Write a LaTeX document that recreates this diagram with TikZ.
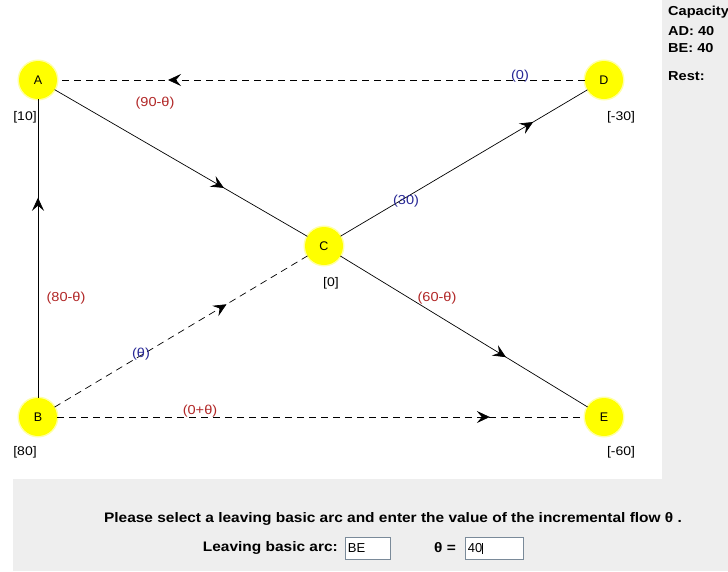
\documentclass[tikz,border=0pt]{standalone}
\usepackage{fontspec}
\setmainfont{Liberation Sans}
\newfontfamily\widefont[FakeStretch=1.12]{Liberation Sans}
\usetikzlibrary{arrows.meta,decorations.markings}
\definecolor{panelgray}{RGB}{238,238,238}
\definecolor{flowred}{RGB}{178,40,40}
\definecolor{flowblue}{RGB}{40,40,150}
\definecolor{boxborder}{RGB}{122,138,153}
\definecolor{nodeyellow}{RGB}{255,255,0}
\tikzset{
  x=1pt,y=-1pt,
  vtx/.style={circle,fill=nodeyellow,minimum size=38pt,inner sep=0pt,font=\fontsize{12.5}{14}\selectfont,
    preaction={draw=nodeyellow!35,line width=3pt}},
  pot/.style={font=\widefont\fontsize{12.5}{14}\selectfont,inner sep=0pt},
  redlbl/.style={font=\widefont\fontsize{13}{14}\selectfont,text=flowred,inner sep=0pt},
  bluelbl/.style={font=\widefont\fontsize{13}{14}\selectfont,text=flowblue,inner sep=0pt},
  arc/.style={line width=0.7pt,black},
  dasharc/.style={line width=0.7pt,black,dash pattern=on 7pt off 5pt},
  midarrow/.style={postaction={decorate},decoration={markings,
     mark=at position #1 with {\arrow{Stealth[length=13pt,width=12pt,inset=5pt]}}}},
  paneltext/.style={font=\widefont\bfseries\fontsize{13}{14}\selectfont,inner sep=0pt,anchor=west},
  bottomtext/.style={font=\widefont\bfseries\fontsize{13.8}{15}\selectfont,inner sep=0pt},
  inbox/.style={draw=boxborder,fill=white,line width=0.7pt,minimum width=45pt,minimum height=22pt,
     inner sep=2pt,anchor=west,font=\fontsize{13}{14}\selectfont,text width=40pt,align=left}
}
\begin{document}
\begin{tikzpicture}
\useasboundingbox (0,0) rectangle (728,571);
\clip (0,0) rectangle (728,571);
\fill[white] (0,0) rectangle (728,571);
% panels
\fill[panelgray] (662,0) rectangle (728,571);
\fill[panelgray] (13,479) rectangle (728,571);

% right panel text
\node[paneltext] (cap) at (668,12) {Capacity};
\node[paneltext] (ad) at (668,31) {AD: 40};
\node[paneltext] (be) at (668,48) {BE: 40};
\node[paneltext] (rest) at (668,76) {Rest:};

% vertices
\node[vtx] (A) at (38,80) {A};
\node[vtx] (D) at (604,80) {D};
\node[vtx] (C) at (324,246) {C};
\node[vtx] (B) at (38,417) {B};
\node[vtx] (E) at (604,417) {E};

% potentials
\node[pot] (pA) at (25,117) {[10]};
\node[pot] (pD) at (621,117) {[-30]};
\node[pot] (pC) at (331,283) {[0]};
\node[pot] (pB) at (25,452) {[80]};
\node[pot] (pE) at (621,452) {[-60]};

% arcs
\draw[dasharc,midarrow=0.79] (D) -- (A);
\draw[arc,midarrow=0.67] (A) -- (C);
\draw[arc,midarrow=0.78] (C) -- (D);
\draw[arc,midarrow=0.67] (C) -- (E);
\draw[arc,midarrow=0.67] (B) -- (A);
\draw[dasharc,midarrow=0.68] (B) -- (C);
\draw[dasharc,midarrow=0.82] (B) -- (E);

% flow labels
\node[bluelbl] (fDA) at (520,76) {(0)};
\node[redlbl] (fAC) at (155,103) {(90-θ)};
\node[bluelbl] (fCD) at (406,201) {(30)};
\node[redlbl] (fCE) at (437,298) {(60-θ)};
\node[redlbl] (fBA) at (66,298) {(80-θ)};
\node[bluelbl] (fBC) at (141,354) {(θ)};
\node[redlbl] (fBE) at (200,411) {(0+θ)};

% bottom panel
\node[bottomtext] (msg) at (393,519)
  {Please select a leaving basic arc and enter the value of the incremental flow θ .};
\node[bottomtext,anchor=east] (lba) at (338,548) {Leaving basic arc:};
\node[inbox] (arcbox) at (345,548) {BE};
\node[bottomtext,anchor=east] (th) at (456,548) {θ =};
\node[inbox,minimum width=58pt,text width=53pt] (thbox) at (465,548) {40\rule[-1pt]{0.6pt}{11pt}};
\end{tikzpicture}
\end{document}
